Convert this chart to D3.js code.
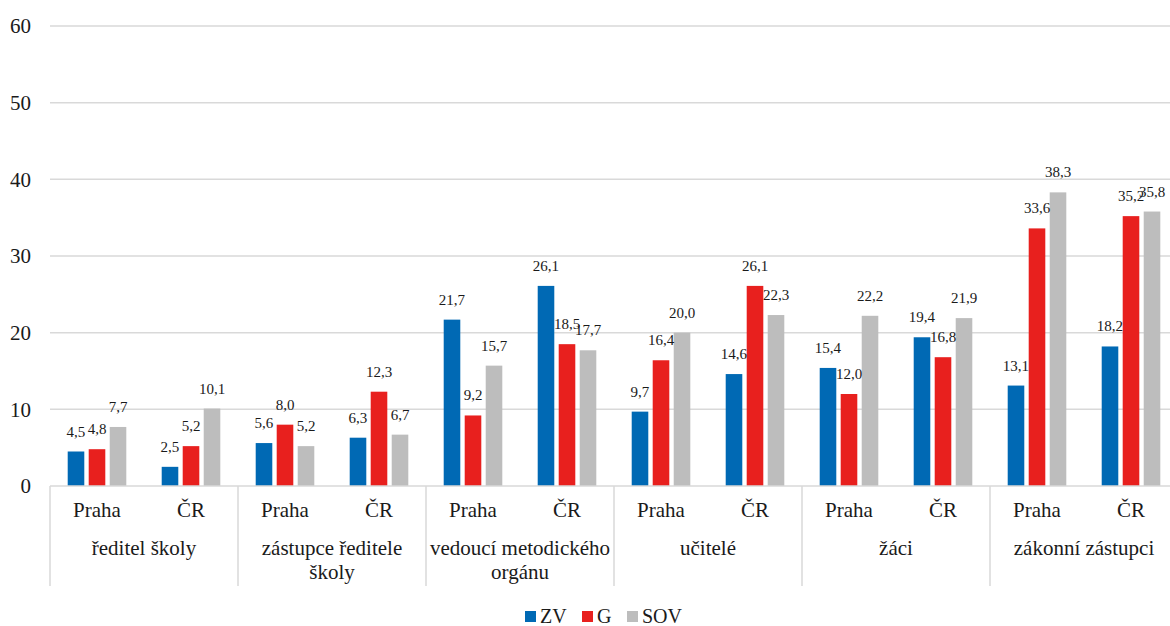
<!DOCTYPE html>
<html>
<head>
<meta charset="utf-8">
<script src="https://cdn.jsdelivr.net/npm/d3@7"></script>
<style>
  html, body { margin: 0; padding: 0; background: #fff; overflow: hidden; }
  svg { display: block; }
</style>
</head>
<body>
<svg id="chart" width="1170" height="626"></svg>
<script>
// ---- data ----
const groups = ["ředitel školy", "zástupce ředitele školy", "vedoucí metodického orgánu", "učitelé", "žáci", "zákonní zástupci"];
const groupLines = [["ředitel školy"], ["zástupce ředitele", "školy"], ["vedoucí metodického", "orgánu"], ["učitelé"], ["žáci"], ["zákonní zástupci"]];
const regions = ["Praha", "ČR"];
const seriesNames = ["ZV", "G", "SOV"];
// values per group: [Praha, ČR]
const ZV  = [4.5, 2.5, 5.6, 6.3, 21.7, 26.1, 9.7, 14.6, 15.4, 19.4, 13.1, 18.2];
const G   = [4.8, 5.2, 8.0, 12.3, 9.2, 18.5, 16.4, 26.1, 12.0, 16.8, 33.6, 35.2];
const SOV = [7.7, 10.1, 5.2, 6.7, 15.7, 17.7, 20.0, 22.3, 22.2, 21.9, 38.3, 35.8];
const yTicks = [0, 10, 20, 30, 40, 50, 60];
const colors = ["#0069B4", "#E8201E", "#BDBDBD"];

const seriesValues = [ZV, G, SOV];
const subKeys = [];
groups.forEach((g, gi) => regions.forEach((r, ri) => subKeys.push(gi + "|" + r)));

// ---- layout ----
const FONT = '"Tinos"';
const TXT = "#1a1a1a";
const svg = d3.select("#chart");
const plotLeft = 50, plotRight = 1178, plotTop = 26, plotBottom = 486;

const y = d3.scaleLinear().domain([0, 60]).range([plotBottom, plotTop]);
const xGroup = d3.scaleBand().domain(groups).range([plotLeft, plotRight]);
const xSub = d3.scaleBand().domain(subKeys).range([plotLeft, plotRight]);
const xSeries = d3.scaleBand().domain(seriesNames).range([0, xSub.bandwidth()])
  .paddingInner(0.21).paddingOuter(0.843);

// gridlines
svg.append("g").selectAll("line").data(yTicks.filter(t => t > 0)).join("line")
  .attr("x1", plotLeft).attr("x2", plotRight)
  .attr("y1", d => y(d)).attr("y2", d => y(d))
  .attr("stroke", "#D9D9D9").attr("stroke-width", 1.5);

// y axis labels
const yAxis = d3.axisLeft(y).tickValues(yTicks).tickSize(0).tickPadding(0).tickFormat(d3.format("d"));
const yg = svg.append("g").attr("transform", `translate(31,0)`).call(yAxis);
yg.attr("font-family", null).attr("font-size", null);
yg.select(".domain").remove();
yg.selectAll("text").attr("fill", TXT).attr("font-size", 21).style("font-family", FONT);

// bars
const barData = [];
subKeys.forEach((k, i) => seriesNames.forEach((s, si) => barData.push({k, s, si, v: seriesValues[si][i]})));
svg.append("g").selectAll("rect").data(barData).join("rect")
  .attr("x", d => xSub(d.k) + xSeries(d.s))
  .attr("width", xSeries.bandwidth())
  .attr("y", d => y(d.v))
  .attr("height", d => y(0) - y(d.v))
  .attr("fill", d => colors[d.si]);

// data labels
const fmt = v => v.toFixed(1).replace(".", ",");
svg.append("g").selectAll("text").data(barData).join("text")
  .attr("x", d => xSub(d.k) + xSeries(d.s) + xSeries.bandwidth() / 2)
  .attr("y", d => y(d.v) - 15)
  .attr("text-anchor", "middle")
  .attr("fill", TXT)
  .attr("font-size", 15).style("font-family", FONT)
  .text(d => fmt(d.v));

// x axis line
svg.append("line").attr("x1", plotLeft).attr("x2", plotRight)
  .attr("y1", y(0)).attr("y2", y(0))
  .attr("stroke", "#D9D9D9").attr("stroke-width", 1.5);

// group separators
const seps = groups.map(g => xGroup(g)).concat([plotRight]);
svg.append("g").selectAll("line").data(seps).join("line")
  .attr("x1", d => d).attr("x2", d => d)
  .attr("y1", y(0)).attr("y2", 586)
  .attr("stroke", "#D9D9D9").attr("stroke-width", 1.5);

// subgroup labels
svg.append("g").selectAll("text").data(subKeys).join("text")
  .attr("x", d => xSub(d) + xSub.bandwidth() / 2)
  .attr("y", 517)
  .attr("text-anchor", "middle")
  .attr("fill", TXT)
  .attr("font-size", 21).style("font-family", FONT)
  .text(d => d.split("|")[1]);

// group labels
const gl = svg.append("g").selectAll("text").data(groups).join("text")
  .attr("x", d => xGroup(d) + xGroup.bandwidth() / 2)
  .attr("y", 555)
  .attr("text-anchor", "middle")
  .attr("fill", TXT)
  .attr("font-size", 21).style("font-family", FONT);
gl.selectAll("tspan").data((d, i) => groupLines[i].map(t => ({t, x: xGroup(d) + xGroup.bandwidth() / 2})))
  .join("tspan")
  .attr("x", d => d.x)
  .attr("dy", (d, i) => i === 0 ? 0 : 24)
  .text(d => d.t);

// legend
const legendX = [525, 582, 627];
const legend = svg.append("g").selectAll("g").data(seriesNames).join("g")
  .attr("transform", (d, i) => `translate(${legendX[i]},611)`);
legend.append("rect").attr("width", 11).attr("height", 11).attr("fill", (d, i) => colors[i]);
legend.append("text").attr("x", 15).attr("y", 12).attr("fill", TXT)
  .attr("font-size", 20).style("font-family", FONT).text(d => d);
</script>
</body>
</html>
